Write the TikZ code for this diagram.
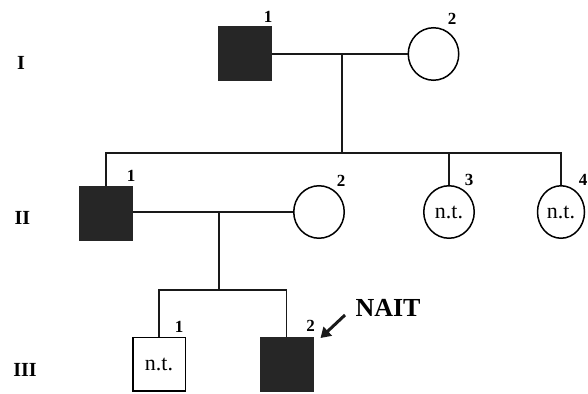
\documentclass[tikz,border=0pt]{standalone}
\usepackage{fontspec}
\setmainfont{Liberation Serif}
\usetikzlibrary{shapes.geometric,arrows.meta}
\begin{document}
\begin{tikzpicture}[x=1pt,y=-1pt,
  line width=1.5pt,
  affsq/.style={rectangle,draw=black!85,fill=black!85,minimum width=52.5pt,minimum height=53.5pt,inner sep=0pt},
  unsq/.style={rectangle,draw=black,fill=white,minimum width=52.5pt,minimum height=53.5pt,inner sep=0pt,font=\fontsize{22}{22}\selectfont},
  fem/.style={ellipse,draw=black,fill=white,minimum width=50.5pt,minimum height=52.5pt,inner sep=0pt,font=\fontsize{22}{22}\selectfont},
  num/.style={font=\bfseries\fontsize{17}{17}\selectfont,inner sep=0pt},
  gen/.style={font=\bfseries\fontsize{20}{20}\selectfont,inner sep=0pt},
  rel/.style={line width=1.5pt,draw=black!90}
]
\useasboundingbox (0,0) rectangle (588,393);

% generation I
\node[affsq] (i1) at (245,54) {};
\node[fem] (i2) at (433.5,54) {};
\coordinate (m1) at (342,54);
\coordinate (s1) at (342,153);

% generation II
\node[affsq] (ii1) at (106,213) {};
\node[fem] (ii2) at (319,212) {};
\node[fem] (ii3) at (449,212) {n.t.};
\node[fem,minimum width=47pt] (ii4) at (561,212) {n.t.};
\coordinate (m2) at (219,212);
\coordinate (s2) at (219,290);

% generation III
\node[unsq] (iii1) at (159,364) {n.t.};
\node[affsq] (iii2) at (286.5,364) {};

% connectors
\draw[rel] (i1.east) -- (m1) -- (i2.west);
\draw[rel] (m1) -- (s1);
\draw[rel] (ii1.north) -- (ii1.north |- s1) -- (ii4.north |- s1) -- (ii4.north);
\draw[rel] (ii3.north |- s1) -- (ii3.north);
\draw[rel] (ii1.east |- m2) -- (m2) -- (ii2.west);
\draw[rel] (m2) -- (s2);
\draw[rel] (iii1.north) -- (iii1.north |- s2) -- (iii2.north |- s2) -- (iii2.north);

% individual numbers
\node[num] (n-i1) at (268,17) {1};
\node[num] (n-i2) at (452,19) {2};
\node[num] (n-ii1) at (131,176) {1};
\node[num] (n-ii2) at (341,181) {2};
\node[num] (n-ii3) at (469,180) {3};
\node[num] (n-ii4) at (583,180) {4};
\node[num] (n-iii1) at (179,327) {1};
\node[num] (n-iii2) at (310.5,326) {2};

% generation labels
\node[gen] (g1) at (21,63) {I};
\node[gen] (g2) at (22.5,218) {II};
\node[gen] (g3) at (25,370) {III};

% proband
\node[font=\bfseries\fontsize{26}{26}\selectfont,inner sep=0pt] (nait) at (388,308) {NAIT};
\coordinate (a1) at (345,315);
\coordinate (a2) at (320.5,338);
\draw[line width=3pt,draw=black!90,-{Triangle[length=10pt,width=12pt]}] (a1) -- (a2);
\end{tikzpicture}
\end{document}
